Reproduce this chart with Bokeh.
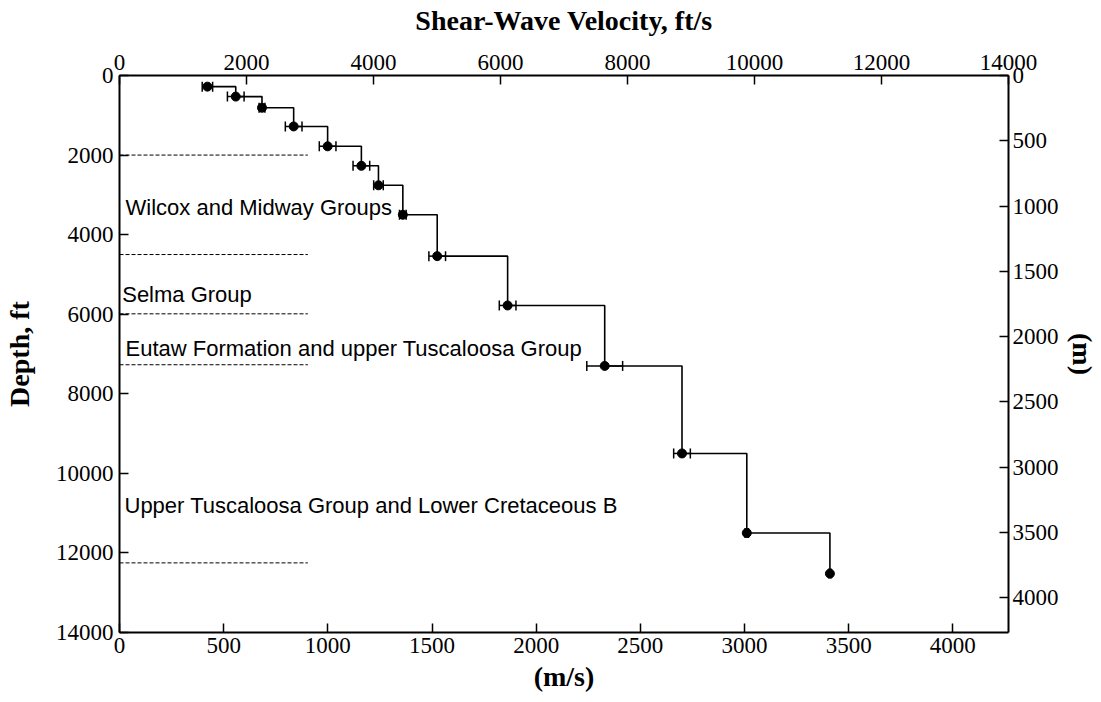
from bokeh.plotting import figure
from bokeh.models import Range1d, LinearAxis, Whisker, TeeHead, ColumnDataSource, FixedTicker
from bokeh.embed import file_html
from bokeh.resources import INLINE
from bokeh.core.properties import value

# ---- data ----
velocity_ms = [422, 558, 684, 836, 999, 1161, 1243, 1360, 1525, 1863, 2329, 2700, 3011, 3410]
depth_ft = [280, 530, 810, 1280, 1780, 2270, 2760, 3500, 4540, 5780, 7300, 9500, 11500, 12520]
velocity_err = [25, 40, 14, 40, 40, 40, 23, 16, 40, 40, 86, 40, 8, 5]
boundary_depth_ft = [2000, 4500, 5990, 7270, 12250]
boundary_end_ms = 904
unit_labels = ["Wilcox and Midway Groups", "Selma Group",
               "Eutaw Formation and upper Tuscaloosa Group",
               "Upper Tuscaloosa Group and Lower Cretaceous B"]
label_x_ms = [29, 13, 29, 24]
label_depth_ft = [3310, 5500, 6870, 10820]
bottom_ticks = [0, 500, 1000, 1500, 2000, 2500, 3000, 3500, 4000]
top_ticks = [0, 2000, 4000, 6000, 8000, 10000, 12000, 14000]
left_ticks = [0, 2000, 4000, 6000, 8000, 10000, 12000, 14000]
right_ticks = [0, 500, 1000, 1500, 2000, 2500, 3000, 3500, 4000]

FT_PER_M = 3.28084
MAX_FT = 14000
MAX_M = MAX_FT / FT_PER_M

p = figure(width=1101, height=702, output_backend="svg", toolbar_location=None,
           x_range=Range1d(0, MAX_M), y_range=Range1d(MAX_FT, 0),
           min_border_left=119, min_border_right=93, min_border_top=75, min_border_bottom=70)
p.extra_x_ranges = {"fts": Range1d(0, MAX_FT)}
p.extra_y_ranges = {"m": Range1d(MAX_M, 0)}
p.grid.visible = False
p.outline_line_color = None
p.background_fill_color = "white"
p.border_fill_color = "white"

bottom_axis = p.below[0]
left_axis = p.left[0]
top_axis = LinearAxis(x_range_name="fts")
right_axis = LinearAxis(y_range_name="m")
p.add_layout(top_axis, "above")
p.add_layout(right_axis, "right")

bottom_axis.axis_label = "(m/s)"
left_axis.axis_label = "Depth, ft"
top_axis.axis_label = "Shear-Wave Velocity, ft/s"
right_axis.axis_label = "(m)"

bottom_axis.ticker = FixedTicker(ticks=bottom_ticks)
top_axis.ticker = FixedTicker(ticks=top_ticks)
left_axis.ticker = FixedTicker(ticks=left_ticks)
right_axis.ticker = FixedTicker(ticks=right_ticks)

for ax in [bottom_axis, top_axis, left_axis, right_axis]:
    ax.axis_line_width = 2
    ax.axis_line_color = "black"
    ax.major_tick_in = 9
    ax.major_tick_out = 0
    ax.major_tick_line_width = 1.5
    ax.major_tick_line_color = "black"
    ax.minor_tick_in = 0
    ax.minor_tick_out = 0
    ax.major_label_text_font = "Liberation Serif"
    ax.major_label_text_font_size = "23px"
    ax.major_label_text_color = "black"
    ax.axis_label_text_font = "Liberation Serif"
    ax.axis_label_text_font_size = "28px"
    ax.axis_label_text_font_style = "bold"
    ax.axis_label_text_color = "black"
    ax.major_label_standoff = 6
    ax.axis_label_standoff = 6

top_axis.axis_label_standoff = 16
left_axis.axis_label_standoff = 18
bottom_axis.major_label_standoff = 5
bottom_axis.axis_label_standoff = 5
right_axis.major_label_standoff = 4
right_axis.axis_label_standoff = 5

# formation boundaries
p.segment(x0=[0] * len(boundary_depth_ft), y0=boundary_depth_ft,
          x1=[boundary_end_ms] * len(boundary_depth_ft), y1=boundary_depth_ft,
          line_dash="4 2", line_width=1, color="black")

# formation names
p.text(x=label_x_ms, y=label_depth_ft, text=unit_labels,
       text_font=value("Liberation Sans"), text_font_size="22px",
       text_baseline="alphabetic", text_align="left", text_color="black")

# step profile
step_x, step_y = [], []
for i in range(len(velocity_ms)):
    step_x.append(velocity_ms[i]); step_y.append(depth_ft[i])
    if i + 1 < len(velocity_ms):
        step_x.append(velocity_ms[i + 1]); step_y.append(depth_ft[i])
p.line(step_x, step_y, line_width=1.6, color="black")

# error bars
src = ColumnDataSource(dict(
    base=depth_ft,
    lower=[v - e for v, e in zip(velocity_ms, velocity_err)],
    upper=[v + e for v, e in zip(velocity_ms, velocity_err)],
))
wh = Whisker(source=src, base="base", lower="lower", upper="upper", dimension="width",
             line_width=1.5, line_color="black",
             lower_head=TeeHead(size=10, line_width=1.5, line_color="black"),
             upper_head=TeeHead(size=10, line_width=1.5, line_color="black"))
p.add_layout(wh)

p.scatter(velocity_ms, depth_ft, size=9, color="black")

open("out.html", "w").write(file_html(p, INLINE))
